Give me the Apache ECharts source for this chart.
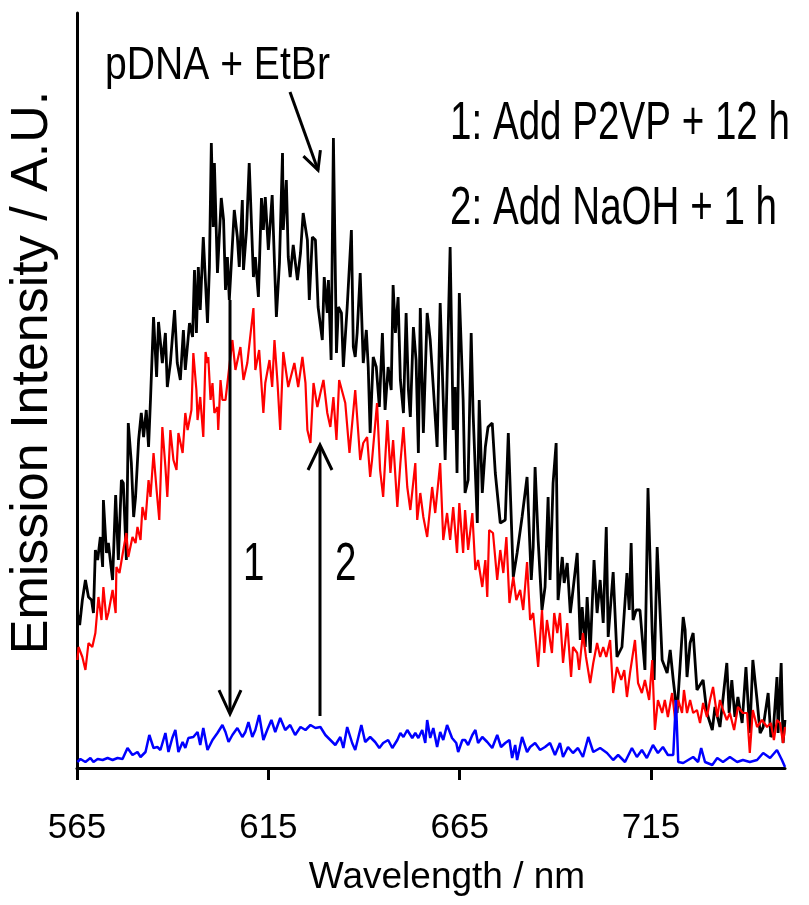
<!DOCTYPE html>
<html>
<head>
<meta charset="utf-8">
<title>Emission spectra</title>
<script src="https://cdn.jsdelivr.net/npm/echarts@6/dist/echarts.min.js"></script>
</head>
<body style="margin:0;background:#fff">
<div id="main" style="width:809px;height:905px;"></div>
<script type="text/javascript">
// wavelength (nm) / intensity (A.U.)
var xTicks = [565, 615, 665, 715];

var blackWl = [565.1,565.7,566.4,567.2,568.0,568.8,569.3,569.8,570.4,571.1,571.7,571.9,572.7,573.2,573.7,574.3,575.1,575.8,576.6,577.1,577.9,578.4,579.2,579.8,580.3,581.1,581.8,582.4,583.1,583.7,584.2,585.0,585.8,586.3,587.3,588.1,588.6,589.4,590.5,591.2,592.0,592.8,593.3,594.4,595.2,595.7,596.2,596.7,597.2,598.0,599.1,599.6,600.1,600.6,600.9,601.7,602.7,603.3,603.8,604.3,604.8,606.1,606.9,607.4,608.2,608.5,609.3,610.0,611.1,611.6,612.4,613.2,613.7,614.2,615.0,616.0,616.6,617.1,617.9,618.7,618.9,619.7,620.2,620.7,621.5,622.6,623.4,624.1,625.2,625.7,626.5,627.3,628.0,629.1,629.6,630.4,630.7,631.4,632.0,632.8,633.3,634.1,634.6,635.6,636.7,637.2,637.7,638.2,639.0,639.8,640.6,641.1,641.6,642.4,643.2,644.0,644.8,645.5,646.3,647.1,647.6,648.2,648.9,649.5,650.3,651.0,651.6,652.1,652.9,653.6,654.2,654.7,655.5,656.5,657.3,658.1,659.1,659.9,660.7,661.2,662.5,663.3,663.8,664.3,664.9,665.9,666.4,667.2,668.0,668.5,669.6,670.1,670.9,671.7,672.4,673.5,674.3,675.6,676.9,677.7,679.0,680.0,681.3,682.6,683.7,684.2,684.7,685.5,686.5,687.3,688.1,688.6,689.4,690.2,690.7,691.8,692.3,693.1,693.9,694.4,695.7,696.5,697.0,697.8,698.3,699.1,700.1,700.9,701.7,702.5,703.3,703.8,705.1,706.1,707.4,708.7,709.3,709.8,710.3,711.1,712.1,713.4,714.2,715.3,715.8,716.6,717.9,719.2,720.0,720.8,721.8,723.4,723.9,724.4,725.2,726.0,727.0,728.6,729.6,731.0,731.7,733.0,734.8,735.4,736.1,736.9,737.7,738.8,739.8,740.8,741.6,742.7,743.5,744.3,745.6,746.3,746.9,747.9,748.2,749.0,749.5,750.0];
var blackInt = [155,143,168,188,171,168,155,218,208,231,201,268,215,225,208,188,273,208,288,285,208,345,305,251,271,328,355,331,358,321,368,451,391,446,405,435,381,405,458,405,388,438,398,445,431,498,435,501,458,531,445,501,625,541,605,495,570,548,478,511,468,558,531,501,568,498,538,605,491,511,471,570,538,571,518,573,505,451,505,615,538,588,511,491,523,488,515,555,528,468,531,528,461,428,491,455,488,408,630,415,461,455,401,461,538,421,411,435,495,405,438,401,335,411,401,361,435,358,401,378,483,435,471,388,355,455,378,351,441,408,315,460,335,455,428,381,321,465,368,308,521,338,381,295,475,368,275,288,435,355,245,368,275,321,341,345,295,245,248,335,191,215,251,291,188,221,301,228,158,181,271,188,285,325,168,211,185,205,155,171,215,128,161,121,171,115,208,155,188,145,241,131,196,111,121,195,158,225,148,158,158,98,280,135,88,221,108,95,118,88,55,151,138,91,125,135,78,88,55,38,61,41,105,55,88,51,71,45,101,35,108,68,35,41,75,31,35,91,35,105,25,48];

var redWl = [565.1,565.4,566.4,567.2,568.0,569.0,569.8,570.6,571.4,571.9,572.7,573.2,574.3,575.1,575.3,576.1,577.1,577.9,578.4,579.5,580.3,580.8,581.6,582.1,582.9,583.7,584.2,585.0,585.8,586.5,587.3,588.1,588.6,589.4,590.2,591.0,591.5,592.6,593.3,593.9,594.9,595.4,596.2,596.5,597.2,598.0,598.6,599.1,599.3,599.9,600.4,600.9,601.7,601.9,602.5,603.0,603.8,605.6,606.4,607.7,608.5,609.5,611.1,611.6,612.6,613.7,614.2,615.3,616.0,616.6,617.4,618.1,618.9,620.2,621.8,622.8,623.9,624.7,625.2,626.0,626.8,627.8,628.6,629.4,630.4,631.2,632.0,632.8,633.5,635.1,636.2,637.7,639.0,639.8,640.8,641.6,642.1,643.4,644.2,645.0,646.1,646.9,647.6,648.7,649.5,650.3,651.3,652.1,653.4,653.9,654.7,655.5,656.5,657.8,658.6,659.9,660.7,661.7,662.5,663.3,664.3,664.9,665.9,666.4,667.2,668.3,669.1,669.8,670.9,671.7,672.2,672.7,673.7,674.8,675.6,676.4,677.2,678.0,679.0,679.8,680.8,681.6,682.6,683.4,684.2,685.5,686.5,687.1,687.8,689.1,689.7,690.5,691.2,692.0,693.1,694.1,694.6,695.7,696.2,697.2,698.0,699.1,699.9,700.9,701.7,702.5,703.3,704.3,705.1,706.1,707.2,708.0,708.7,709.5,710.8,711.6,712.6,713.4,714.5,715.3,716.0,716.8,717.9,718.6,719.4,720.5,721.3,722.1,723.1,723.6,724.4,725.2,726.0,727.0,727.8,728.6,729.6,730.4,731.2,732.3,733.0,733.8,734.8,735.6,736.7,737.7,739.0,740.1,740.8,741.6,742.7,744.0,745.3,746.3,747.1,747.9,748.7,749.5,750.0];
var redInt = [108,121,111,98,125,121,135,171,148,181,148,155,178,155,201,195,218,235,211,231,225,241,228,261,248,288,271,315,278,248,341,301,271,338,308,298,335,315,355,338,358,415,378,348,371,331,416,405,411,368,385,355,361,338,388,368,368,428,398,421,388,405,460,398,418,355,385,408,381,428,385,338,416,381,405,381,411,385,338,325,385,361,375,388,355,341,371,328,388,365,315,378,308,325,331,291,308,365,298,271,348,295,328,261,305,341,281,258,305,248,275,251,231,281,255,305,228,255,228,261,215,265,215,258,218,255,198,208,181,208,171,238,235,188,218,195,231,165,191,168,178,158,206,148,155,101,158,115,148,115,155,135,155,105,145,91,121,115,98,135,111,85,105,125,111,121,111,128,75,101,88,98,71,95,128,85,75,88,68,108,38,68,55,68,51,75,48,68,55,78,55,68,55,58,45,65,51,68,81,51,68,58,48,55,38,61,55,55,15,58,41,48,41,45,28,48,45,25,41];

var blueWl = [565.1,565.9,567.2,568.5,569.3,570.4,571.7,573.0,574.3,575.6,576.9,578.2,579.5,580.8,581.6,582.9,583.9,585.0,586.0,586.8,588.1,588.9,589.9,590.7,591.5,592.6,593.3,594.1,595.4,596.5,597.2,598.0,599.1,600.4,601.7,603.0,603.8,604.6,605.6,606.9,608.2,609.0,609.8,610.8,611.6,612.6,613.7,614.7,615.8,616.8,618.1,619.4,620.7,622.0,623.4,624.7,626.0,627.3,628.6,629.9,631.2,632.5,633.8,634.6,635.6,636.9,637.7,639.3,640.3,641.6,642.9,644.0,645.0,646.3,647.4,648.7,649.5,650.3,651.3,652.6,653.4,654.2,655.2,656.0,656.5,657.3,658.1,659.1,659.9,660.7,661.7,663.0,664.1,664.6,665.7,666.4,667.2,668.3,669.1,669.8,670.9,672.2,673.5,674.8,675.8,676.9,678.0,678.7,679.5,680.0,681.3,682.6,683.4,684.7,686.0,687.3,688.6,689.9,691.2,692.0,693.3,694.6,695.9,697.2,698.6,699.9,701.7,703.5,705.1,706.4,708.2,710.0,711.3,712.6,713.9,715.5,716.8,718.1,719.4,720.8,721.5,722.1,723.4,724.7,726.0,727.3,728.1,729.1,731.0,732.3,733.8,735.6,737.5,739.0,740.8,742.7,744.3,746.1,747.9,749.2,750.0];
var blueInt = [6,9,6,10,6,9,8,10,8,10,9,20,13,16,11,16,33,20,21,18,35,16,30,38,16,26,20,30,31,36,23,40,18,28,35,43,36,26,33,40,31,36,46,31,38,53,28,38,48,36,50,38,43,33,41,38,43,40,41,33,28,23,31,20,41,25,18,43,26,31,26,20,25,28,20,28,35,31,38,30,35,30,38,25,48,30,40,21,36,28,43,30,25,16,28,28,23,33,38,25,31,26,20,33,21,25,28,10,23,8,31,16,21,25,18,21,25,13,25,11,21,15,20,11,31,16,20,15,8,13,6,20,11,18,10,23,15,21,13,13,68,6,5,8,11,6,20,6,3,10,6,11,6,8,6,8,15,10,18,8,1];

function pairs(xs, ys) {
	var res = [];
	for (var i = 0; i < xs.length; i++) res.push([xs[i], ys[i]]);
	return res;
}

var myChart = echarts.init(document.getElementById('main'));
var font = "'Liberation Sans', Arial, sans-serif";

function note(txt, x, y, size, sx) {
	return {
		type: 'text', x: x, y: y, scaleX: sx, z: 100,
		style: { text: txt, font: size + 'px ' + font, fill: '#000', align: 'left', verticalAlign: 'middle' }
	};
}
function stroke(points) {
	return {
		type: 'polyline', z: 100,
		shape: { points: points },
		style: { stroke: '#000', lineWidth: 3, fill: null, lineJoin: 'miter' }
	};
}

var option = {
	backgroundColor: '#fff',
	animation: false,
	grid: { left: 77, right: 24, top: 13, bottom: 137, containLabel: false, outerBoundsMode: 'none' },
	xAxis: {
		type: 'value', min: 565, max: 750,
		name: 'Wavelength / nm', nameLocation: 'middle', nameGap: 91,
		nameTextStyle: { fontFamily: font, fontSize: 37, color: '#000', padding: [0, 0, 0, 32] },
		axisLine: { lineStyle: { color: '#000', width: 3 } },
		axisTick: { show: true, inside: false, length: 12, lineStyle: { color: '#000', width: 3 }, customValues: xTicks },
		axisLabel: { fontFamily: font, fontSize: 35, color: '#000', margin: 43, customValues: xTicks },
		splitLine: { show: false }
	},
	yAxis: {
		type: 'value', min: 0, max: 755,
		name: 'Emission Intensity / A.U.', nameLocation: 'middle', nameGap: 18,
		nameTextStyle: { fontFamily: font, fontSize: 52, color: '#000', padding: [0, 0, 0, 36] },
		axisLine: { show: true, lineStyle: { color: '#000', width: 3 } },
		axisTick: { show: false },
		axisLabel: { show: false },
		splitLine: { show: false }
	},
	series: [
		{ name: 'pDNA + EtBr', type: 'line', showSymbol: false, data: pairs(blackWl, blackInt), lineStyle: { color: '#000', width: 2.8 }, itemStyle: { color: '#000' } },
		{ name: '2: Add NaOH + 1 h', type: 'line', showSymbol: false, data: pairs(redWl, redInt), lineStyle: { color: '#ff0000', width: 2.2 }, itemStyle: { color: '#ff0000' } },
		{ name: '1: Add P2VP + 12 h', type: 'line', showSymbol: false, data: pairs(blueWl, blueInt), lineStyle: { color: '#0000ff', width: 2.5 }, itemStyle: { color: '#0000ff' } }
	],
	graphic: [
		note('pDNA + EtBr', 105, 66, 46, 0.85),
		note('1: Add P2VP + 12 h', 450, 124, 53, 0.728),
		note('2: Add NaOH + 1 h', 450, 209, 53, 0.728),
		note('1', 243, 565, 53, 0.728),
		note('2', 335, 565, 53, 0.728),
		// arrow to the untreated spectrum
		stroke([[290, 92], [318, 170]]),
		stroke([[303.4, 156.1], [318, 170], [320.4, 150.1]]),
		// arrow 1 (down)
		stroke([[230, 300], [230, 713]]),
		stroke([[219, 690], [230, 714], [241, 690]]),
		// arrow 2 (up)
		stroke([[320, 716], [320, 446]]),
		stroke([[308, 470], [320, 445], [332, 470]])
	]
};

myChart.setOption(option);
</script>
</body>
</html>
